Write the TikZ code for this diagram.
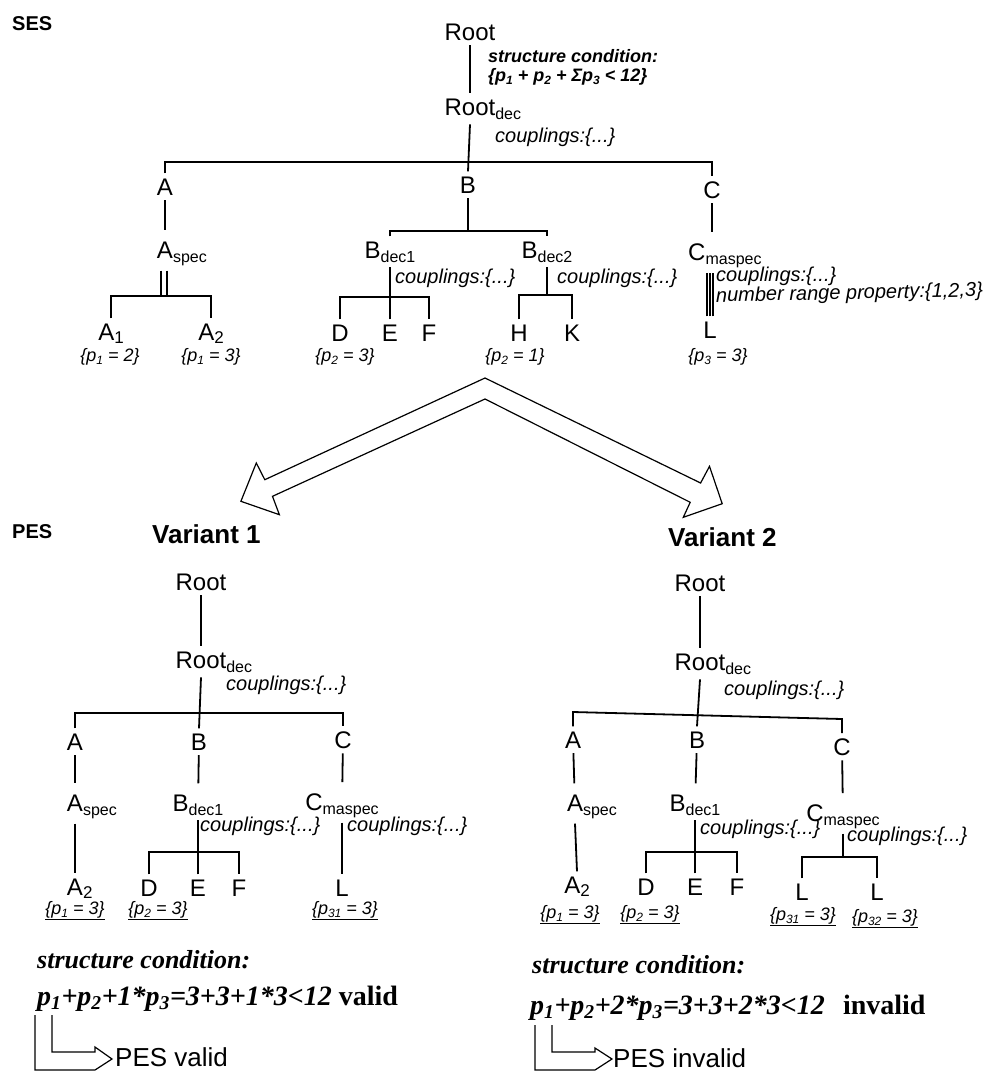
\documentclass[tikz,border=0pt]{standalone}
\usepackage{fontspec}
\setmainfont{Liberation Serif}
\setsansfont{Liberation Sans}
\newcommand\sbx[1]{\raisebox{-4pt}{\fontsize{16}{16}\selectfont #1}}
\newcommand\sbd[1]{\raisebox{-3pt}{\fontsize{17}{17}\selectfont #1}}
\newcommand\psb[1]{\raisebox{-3pt}{\fontsize{12}{12}\selectfont #1}}
\begin{document}
\begin{tikzpicture}[x=1pt,y=-1pt,
  n/.style={font=\sffamily\fontsize{24}{24}\selectfont, inner sep=5pt, anchor=base},
  cp/.style={font=\sffamily\itshape\fontsize{20}{20}\selectfont, inner sep=0pt, anchor=base west},
  pl/.style={font=\sffamily\itshape\fontsize{18}{18}\selectfont, inner sep=0pt, anchor=base},
  ttl/.style={font=\sffamily\bfseries\fontsize{20}{20}\selectfont, inner sep=0pt, anchor=base west},
  var/.style={font=\sffamily\bfseries\fontsize{26}{26}\selectfont, inner sep=0pt, anchor=base west},
  sc/.style={font=\rmfamily\bfseries\itshape\fontsize{26}{26}\selectfont, inner sep=0pt, anchor=base west},
  fm/.style={font=\rmfamily\bfseries\itshape\fontsize{28}{28}\selectfont, inner sep=0pt, anchor=base west},
  res/.style={font=\sffamily\fontsize{26}{26}\selectfont, inner sep=0pt, anchor=base west},
  ln/.style={line width=1.8pt},
  lk/.style={line width=1.8pt, shorten >=6pt},
  thin/.style={line width=1.2pt}]
\fill[white] (0,0) rectangle (998,1080);
\useasboundingbox (0,0) rectangle (998,1080);

% ---------------- SES ----------------
\node[ttl] (ses) at (12,30) {SES};
\node[n] (root) at (470,40) {Root};
\node[n] (rootdec) at (470,115) {Root\rlap{\sbx{dec}}};
\node[font=\sffamily\bfseries\itshape\fontsize{18}{18}\selectfont, inner sep=0pt, anchor=base west] (cond) at (488,62) {structure condition:};
\node[font=\sffamily\bfseries\itshape\fontsize{18}{18}\selectfont, inner sep=0pt, anchor=base west] (cond2) at (488,81) {\{p\psb{1} + p\psb{2} + Σp\psb{3} < 12\}};
\node[cp] (cpl0) at (495,142) {couplings:\{...\}};
\draw[ln] (root) -- (rootdec);

\node[n] (A) at (165,195) {A};
\node[n] (B) at (468,193) {B};
\node[n] (C) at (712,198) {C};
\coordinate (sbar) at (0,162);
\draw[ln] (rootdec.south) -- (B.north);
\draw[ln] (A.north) -- (A.north |- sbar) -- (C.north |- sbar) -- (C.north);

% A branch
\node[n] (Aspec) at (165,258) {A\rlap{\sbx{spec}}};
\draw[lk] (A) -- (Aspec);
\coordinate (abar) at (0,296);
\node[n] (A1) at (111,340) {A\sbd{1}};
\node[n] (A2) at (211,340) {A\sbd{2}};
\draw[ln] (A1.north) -- (A1.north |- abar) -- (A2.north |- abar) -- (A2.north);
\draw[thin] ([xshift=-4pt]Aspec.south) -- ([xshift=-4pt]Aspec.south |- abar);
\draw[thin] ([xshift=2pt]Aspec.south) -- ([xshift=2pt]Aspec.south |- abar);
\node[pl] (pA1) at (110,361) {\{p\psb{1} = 2\}};
\node[pl] (pA2) at (211,361) {\{p\psb{1} = 3\}};

% B branch
\coordinate (bbar) at (0,231);
\node[n] (Bd1) at (390,258) {B\sbx{dec1}};
\node[n] (Bd2) at (547,258) {B\sbx{dec2}};
\draw[ln] (B.south) -- (B.south |- bbar);
\draw[ln] (Bd1.north) -- (Bd1.north |- bbar) -- (Bd2.north |- bbar) -- (Bd2.north);
\node[cp] (cpl1) at (395,283) {couplings:\{...\}};
\node[cp] (cpl2) at (557,283) {couplings:\{...\}};
\coordinate (dbar) at (0,297);
\node[n] (D) at (340,341) {D};
\node[n] (E) at (390,341) {E};
\node[n] (F) at (429,341) {F};
\draw[ln] (Bd1.south) -- (Bd1.south |- dbar);
\draw[ln] (D.north) -- (D.north |- dbar) -- (F.north |- dbar) -- (F.north);
\draw[ln] (E.north) -- (E.north |- dbar);
\node[pl] (pD) at (345,361) {\{p\psb{2} = 3\}};
\coordinate (hbar) at (0,295);
\node[n] (H) at (519,341) {H};
\node[n] (K) at (572,341) {K};
\draw[ln] (Bd2.south) -- (Bd2.south |- hbar);
\draw[ln] (H.north) -- (H.north |- hbar) -- (K.north |- hbar) -- (K.north);
\node[pl] (pH) at (515,361) {\{p\psb{2} = 1\}};

% C branch
\node[n, anchor=base west] (Cm) at (683,260) {C\sbx{maspec}};
\draw[lk] (C.south) -- (C.south |- Cm.north);
\node[n] (L) at (710,338) {L};
\foreach \dx in {-3,0,3}
  \draw[line width=1.1pt] ([xshift=\dx pt]L.north) -- ([xshift=\dx pt]L.north |- Cm.south);
\node[cp] (cpl3) at (716,281) {couplings:\{...\}};
\node[cp, rotate=1.2] (nrp) at (716,302) {number range property:\{1,2,3\}};
\node[pl] (pL) at (718,361) {\{p\psb{3} = 3\}};

% ---------------- double arrow ----------------
\draw[thin, fill=white] (485,378) -- (700.6,483) -- (709.5,466.3) -- (722.2,503.7)
  -- (683.3,517.3) -- (690.2,502.3) -- (485,399) -- (272.5,496.3) -- (279.4,514.7)
  -- (240.9,501.3) -- (256.3,463) -- (264.8,479.7) -- cycle;

% ---------------- PES ----------------
\node[ttl] (pes) at (12,538) {PES};
\node[var] (v1) at (152,543) {Variant 1};
\node[var] (v2) at (668,546) {Variant 2};

% Variant 1
\node[n] (r1) at (201,590) {Root};
\node[n] (rd1) at (201,668) {Root\rlap{\sbx{dec}}};
\draw[ln] (r1) -- (rd1);
\node[cp] (cp11) at (226,690) {couplings:\{...\}};
\node[n] (a1) at (75,750) {A};
\node[n] (b1) at (199,750) {B};
\node[n] (c1) at (343,748) {C};
\coordinate (v1bar) at (0,713);
\draw[ln] (rd1.south) -- (b1.north);
\draw[ln] (a1.north) -- (a1.north |- v1bar) -- (c1.north |- v1bar) -- (c1.north);
\node[n] (as1) at (75,811) {A\rlap{\sbx{spec}}};
\node[n] (bd1) at (198,811) {B\sbx{dec1}};
\node[n] (cm1) at (342,810) {C\sbx{maspec}};
\draw[lk] (a1) -- (as1);
\draw[lk] (b1) -- (bd1);
\draw[lk] (c1) -- (cm1);
\node[cp] (cp12) at (200,831) {couplings:\{...\}};
\node[cp] (cp13) at (347,831) {couplings:\{...\}};
\node[n] (a21) at (75,895) {A\rlap{\psb{\fontsize{17}{17}\selectfont 2}}};
\draw[ln] (as1.south) -- (a21.north);
\coordinate (v1dbar) at (0,852);
\node[n] (d1) at (149,896) {D};
\node[n] (e1) at (198,896) {E};
\node[n] (f1) at (239,896) {F};
\draw[ln] (bd1.south) -- (bd1.south |- v1dbar);
\draw[ln] (d1.north) -- (d1.north |- v1dbar) -- (f1.north |- v1dbar) -- (f1.north);
\draw[ln] (e1.north) -- (e1.north |- v1dbar);
\node[n] (l1) at (342,896) {L};
\draw[ln] (cm1.south) -- (l1.north);
\node[pl] (q11) at (75,914) {\underline{\{p\psb{1} = 3\}}};
\node[pl] (q12) at (158,914) {\underline{\{p\psb{2} = 3\}}};
\node[pl] (q13) at (345,914) {\underline{\{p\psb{31} = 3\}}};

% Variant 2
\node[n] (r2) at (700,591) {Root};
\node[n] (rd2) at (700,670) {Root\rlap{\sbx{dec}}};
\draw[ln] (r2) -- (rd2);
\node[cp] (cp21) at (724,695) {couplings:\{...\}};
\node[n] (a2) at (573,748) {A};
\node[n] (b2) at (697,748) {B};
\node[n] (c2) at (842,755) {C};
\coordinate (v2l) at (0,712);
\coordinate (v2r) at (0,719);
\draw[ln] (rd2.south) -- (b2.north);
\draw[ln] (a2.north) -- (a2.north |- v2l) -- (c2.north |- v2r) -- (c2.north);
\node[n] (as2) at (575,811) {A\rlap{\sbx{spec}}};
\node[n] (bd2) at (695,811) {B\sbx{dec1}};
\node[n] (cm2) at (843,821) {C\sbx{maspec}};
\draw[lk] (a2) -- (as2);
\draw[lk] (b2) -- (bd2);
\draw[lk] (c2) -- (cm2);
\node[cp] (cp22) at (700,834) {couplings:\{...\}};
\node[cp] (cp23) at (847,841) {couplings:\{...\}};
\node[n] (a22) at (577,893) {A\psb{\fontsize{17}{17}\selectfont 2}};
\draw[ln] (as2.south) -- (a22.north);
\coordinate (v2dbar) at (0,852);
\node[n] (d2) at (646,895) {D};
\node[n] (e2) at (695,895) {E};
\node[n] (f2) at (737,895) {F};
\draw[ln] (bd2.south) -- (bd2.south |- v2dbar);
\draw[ln] (d2.north) -- (d2.north |- v2dbar) -- (f2.north |- v2dbar) -- (f2.north);
\draw[ln] (e2.north) -- (e2.north |- v2dbar);
\coordinate (v2lbar) at (0,857);
\node[n] (l21) at (802,900) {L};
\node[n] (l22) at (877,900) {L};
\draw[ln] (cm2.south) -- (cm2.south |- v2lbar);
\draw[ln] (l21.north) -- (l21.north |- v2lbar) -- (l22.north |- v2lbar) -- (l22.north);
\node[pl] (q21) at (570,918) {\underline{\{p\psb{1} = 3\}}};
\node[pl] (q22) at (650,918) {\underline{\{p\psb{2} = 3\}}};
\node[pl] (q23) at (803,920) {\underline{\{p\psb{31} = 3\}}};
\node[pl] (q24) at (885,922) {\underline{\{p\psb{32} = 3\}}};

% ---------------- structure conditions ----------------
\node[sc] (sc1) at (37,968) {structure condition:};
\node[fm] (fm1) at (37,1005) {p\textsubscript{1}+p\textsubscript{2}+1*p\textsubscript{3}=3+3+1*3<12 {\upshape valid}};
\node[sc] (sc2) at (532,973) {structure condition:};
\node[fm] (fm2) at (530,1014) {p\textsubscript{1}+p\textsubscript{2}+2*p\textsubscript{3}=3+3+2*3<12\hspace{0.4em} {\upshape invalid}};

\node[res] (pv) at (115,1066) {PES valid};
\node[res] (pi) at (613,1067) {PES invalid};
\draw[thin] (52,1015) -- (52,1052) -- (95,1052) -- (95,1047) -- (112,1059) -- (95,1070) -- (35,1070) -- (35,1015);
\draw[thin] (552,1025) -- (552,1052) -- (595,1052) -- (595,1048) -- (612,1059) -- (595,1070) -- (535,1070) -- (535,1025);
\end{tikzpicture}
\end{document}
